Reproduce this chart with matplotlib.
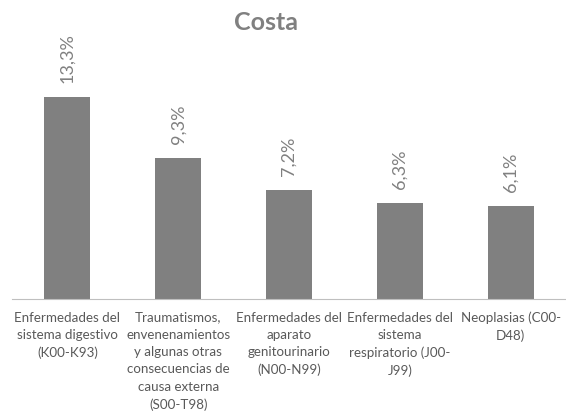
import matplotlib.pyplot as plt
import numpy as np

plt.rcParams['font.family'] = ['Lato', 'DejaVu Sans']

categories = [
    "Enfermedades del\nsistema digestivo\n(K00-K93)",
    "Traumatismos,\nenvenenamientos\ny algunas otras\nconsecuencias de\ncausa externa\n(S00-T98)",
    "Enfermedades del\naparato\ngenitourinario\n(N00-N99)",
    "Enfermedades del\nsistema\nrespiratorio (J00-\nJ99)",
    "Neoplasias (C00-\nD48)",
]
values = [13.3, 9.3, 7.2, 6.3, 6.1]
value_labels = ["13,3%", "9,3%", "7,2%", "6,3%", "6,1%"]

fig = plt.figure(figsize=(5.66, 4.16), dpi=100)
ax = fig.add_axes([12 / 566, 1 - 299 / 416, 554 / 566, 212.5 / 416])

x = np.arange(len(values))
ax.bar(x, values, width=0.415, color="#808080")
ax.set_xlim(-0.5, len(values) - 0.5)
ax.set_ylim(0, 14)

for xi, v, lab in zip(x, values, value_labels):
    ax.annotate(lab, (xi, v), xytext=(0, 14), textcoords="offset pixels",
                rotation=90, ha="center", va="bottom", fontsize=13,
                color="#808080", annotation_clip=False)

ax.set_xticks(x)
ax.set_xticklabels(categories, fontsize=9.6, color="#595959", linespacing=1.53)
ax.tick_params(axis="x", length=0, pad=9)
ax.set_yticks([])
for s in ["top", "right", "left"]:
    ax.spines[s].set_visible(False)
ax.spines["bottom"].set_color("#bfbfbf")

fig.text(266 / 566, 1 - 23 / 416, "Costa", ha="center", va="center",
         fontsize=18, fontweight="bold", color="#808080")

fig.savefig("out.png", dpi=100)
